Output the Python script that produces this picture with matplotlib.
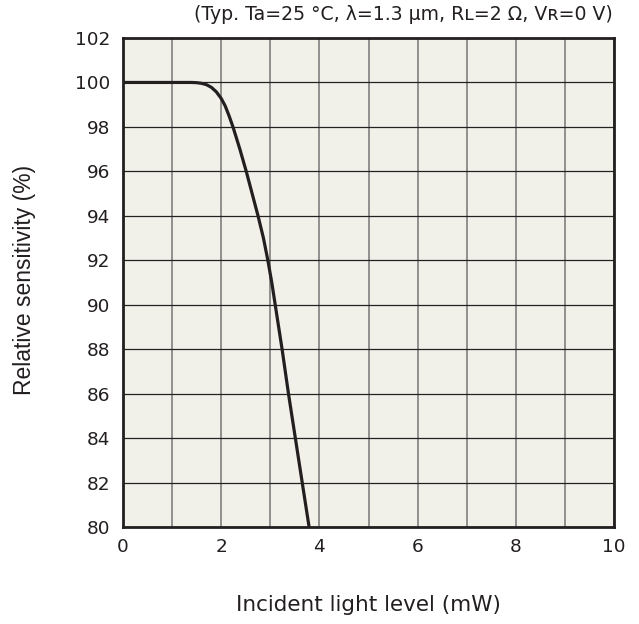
import numpy as np
import matplotlib
matplotlib.use('Agg')
import matplotlib.pyplot as plt
from matplotlib.ticker import MultipleLocator

# curve (incident light level in mW, relative sensitivity in %)
light_mw = [0.0, 1.0, 1.4, 1.5, 1.6, 1.7, 1.8, 1.9, 2.0, 2.08, 2.16, 2.24,
            2.38, 2.51, 2.63, 2.75, 2.86, 2.95, 3.03, 3.10, 3.24, 3.37, 3.51, 3.65, 3.79]
sensitivity = [100.0, 100.0, 100.0, 99.99, 99.96, 99.9, 99.78, 99.58, 99.28, 98.95, 98.5, 98.0,
               97.0, 96.0, 95.0, 94.0, 93.0, 92.0, 91.0, 90.0, 88.0, 86.0, 84.0, 82.0, 80.0]

x_ticks = [0, 2, 4, 6, 8, 10]
y_ticks = [80, 82, 84, 86, 88, 90, 92, 94, 96, 98, 100, 102]
condition = '(Typ. Ta=25 °C, λ=1.3 μm, Rʟ=2 Ω, Vʀ=0 V)'

W, H = 639, 624
fig = plt.figure(figsize=(W / 100, H / 100), dpi=100)
ax = fig.add_axes([123 / W, 1 - 527 / H, (614 - 123) / W, (527 - 38) / H])
ax.set_facecolor('#f2f1e9')

ax.plot(light_mw, sensitivity, color='#231f20', lw=2.3, solid_capstyle='butt',
        solid_joinstyle='round', zorder=3)

ax.set_xlim(0, 10)
ax.set_ylim(80, 102)
ax.set_xticks(x_ticks)
ax.set_yticks(y_ticks)
ax.xaxis.set_minor_locator(MultipleLocator(1))
ax.grid(True, which='both', axis='x', color='#808080', lw=1.2)
ax.grid(True, which='major', axis='y', color='#222222', lw=0.9)
ax.tick_params(which='both', length=0, labelsize=13.3, labelcolor='#231f20')
ax.tick_params(axis='y', pad=9)
ax.tick_params(axis='x', pad=8)
for s in ax.spines.values():
    s.set_linewidth(2.0)
    s.set_color('#231f20')

fig.text(613 / W, 1 - 15 / H, condition, ha='right', va='center', fontsize=13.6, color='#231f20')
fig.text(368 / W, 1 - 605 / H, 'Incident light level (mW)', ha='center', va='center',
         fontsize=15.5, color='#231f20')
fig.text(25 / W, 1 - 280 / H, 'Relative sensitivity (%)', ha='center', va='center',
         rotation=90, fontsize=16.5, family='Liberation Sans', color='#231f20')

fig.savefig('out.png', dpi=100)
